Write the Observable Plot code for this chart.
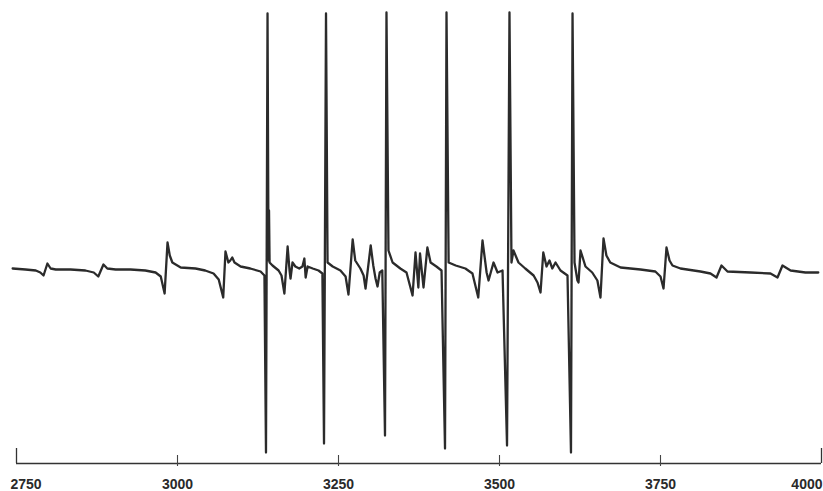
<!DOCTYPE html>
<html>
<head>
<meta charset="utf-8">
<script src="https://cdn.jsdelivr.net/npm/d3@7"></script>
<script src="https://cdn.jsdelivr.net/npm/@observablehq/plot@0.6"></script>
<style>
  html, body { margin: 0; padding: 0; background: #ffffff; }
  #chart svg { display: block; }
</style>
</head>
<body>
<div id="chart"></div>
<script>
// Magnetic field (gauss) of the trace vertices
const fieldG = [
  2744, 2764, 2780, 2787, 2792, 2798, 2803, 2811, 2834, 2857, 2870, 2877, 2885, 2891, 2904,
  2927, 2950, 2966, 2974, 2980, 2984.5, 2988, 2992, 3005, 3028, 3043, 3056, 3064, 3071, 3074.5,
  3079, 3082, 3085, 3088.5, 3098, 3113, 3129, 3135, 3137.4, 3139.8, 3141.3, 3142.1, 3143, 3147.5,
  3157, 3161.5, 3166, 3171, 3174, 3175.5, 3178.6, 3183, 3189, 3194, 3197, 3199, 3202, 3210,
  3219, 3225, 3227.5, 3230.6, 3233, 3241, 3253, 3261, 3265.5, 3272, 3276, 3284, 3289, 3292,
  3300, 3304, 3307.5, 3310.6, 3314, 3318, 3322.2, 3324.5, 3327.6, 3334, 3346, 3355.6, 3365,
  3369.6, 3374, 3376.6, 3382, 3388, 3393, 3402, 3410, 3415.4, 3417.7, 3421, 3432, 3447, 3458,
  3467, 3473.6, 3480, 3483, 3490.7, 3497, 3504.7, 3511.7, 3515.5, 3518.6, 3521.7, 3529.5, 3540,
  3553, 3559, 3563.7, 3568, 3573, 3577.6, 3582, 3587, 3594.7, 3605.6, 3611, 3613.4, 3616.5,
  3621, 3622.7, 3625.8, 3633.5, 3644, 3652, 3656.8, 3661.5, 3666, 3672, 3688, 3719, 3742,
  3750, 3754.7, 3759.3, 3764, 3768.6, 3781, 3812, 3827.6, 3837, 3844.7, 3854, 3889.8, 3920.8,
  3931.7, 3939.4, 3952, 3975, 3995
];
// Derivative signal (arbitrary units, baseline ~0) at each vertex
const signal = [
  1, 0, -1, -3, -6, 6, 1, 0, 0, -1, -3, -7, 5, 1, 0,
  0, -1, -3, -7, -24, 27, 14, 7, 2, 1, -1, -4, -10, -28, 18,
  7, 9, 12, 7, 3, 1, -2, -6, -183, 256, 9, 59, 7, 4,
  -1, -6, -24, 23, -1, -9, 7, 3, 1, 3, 11, -8, 3, 1,
  -1, -4, -174, 256, 7, 3, -1, -7, -25, 30, 9, 1, -6, -19,
  24, 4, -9, -17, -3, -1, -166, 257, 19, 7, 1, -3, -26,
  17, -18, 16, -18, 22, 7, 3, -1, -179, 257, 7, 4, 1, -4,
  -28, 29, -3, -11, 7, -3, -1, -176, 257, 7, 19, 7, 1,
  -6, -13, -23, 17, 3, 9, 1, 7, -1, -6, -183, 256, 7,
  -11, -13, 19, 3, -3, -11, -28, 31, 14, 7, 2, 0, -2,
  -7, -19, 22, 9, 4, 1, -2, -4, -8, 4, -2, -3, -4,
  -8, 4, -1, -3, -3
];
const tickValues = [2750, 3000, 3250, 3500, 3750, 4000];
const tickLabels = ["2750", "3000", "3250", "3500", "3750", "4000"];

const trace = fieldG.map((g, i) => ({g, s: signal[i]}));
const labels = tickValues.map((v, i) => ({v, label: tickLabels[i]}));
const axisLevel = -194;
const font = "Liberation Sans, Arial, sans-serif";

const chart = Plot.plot({
  width: 823,
  height: 491,
  marginTop: 0,
  marginBottom: 28,
  marginLeft: 16,
  marginRight: 2,
  style: {background: "#ffffff"},
  x: {domain: [2750, 4000], axis: null},
  y: {domain: [axisLevel, 269], axis: null},
  marks: [
    Plot.ruleY([axisLevel], {x1: 2750, x2: 4000, stroke: "#333", strokeWidth: 1.3}),
    Plot.ruleX(tickValues.filter(v => v === 2750 || v === 4000), {x: d => d, y1: axisLevel, y2: -179, stroke: "#333", strokeWidth: 1.3}),
    Plot.ruleX(tickValues.filter(v => v !== 2750 && v !== 4000), {x: d => d, y1: -197, y2: -186, stroke: "#444", strokeWidth: 1.1}),
    Plot.line(trace, {x: "g", y: "s", stroke: "#2b2b2b", strokeWidth: 2.3, strokeLinejoin: "round", strokeLinecap: "round", curve: "linear"}),
    Plot.text(labels.slice(0, 1), {x: "v", y: -215, text: "label", textAnchor: "start", dx: -6, fontSize: 14, fontWeight: "bold", fill: "#2a2a2a", fontFamily: font}),
    Plot.text(labels.slice(1, 5), {x: "v", y: -215, text: "label", textAnchor: "middle", fontSize: 14, fontWeight: "bold", fill: "#2a2a2a", fontFamily: font}),
    Plot.text(labels.slice(5), {x: "v", y: -215, text: "label", textAnchor: "end", dx: 1, fontSize: 14, fontWeight: "bold", fill: "#2a2a2a", fontFamily: font})
  ]
});
document.getElementById("chart").appendChild(chart);
</script>
</body>
</html>
